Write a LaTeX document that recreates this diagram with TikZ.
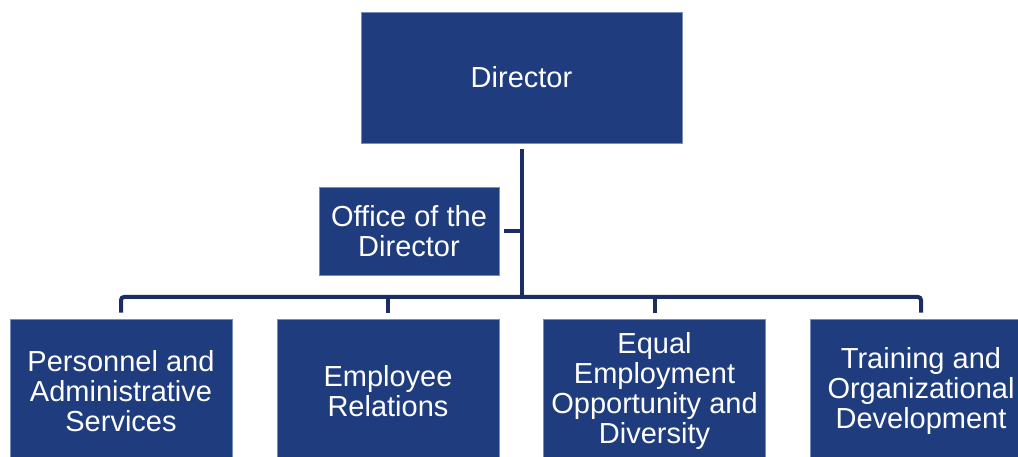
\documentclass[tikz,border=0pt]{standalone}
\usepackage{fontspec}
\setmainfont{Liberation Sans}
\definecolor{boxblue}{RGB}{31,60,126}
\definecolor{boxedge}{RGB}{120,140,190}
\definecolor{linenavy}{RGB}{26,45,100}
\begin{document}
\begin{tikzpicture}[x=1pt,y=-1pt,
  orgbox/.style={fill=boxblue,draw=boxedge,line width=0.6pt,text=white,align=center,
    inner sep=0pt,font=\fontsize{29}{30}\selectfont},
  conn/.style={draw=linenavy,line width=4pt,rounded corners=3pt}]
\useasboundingbox (0,0) rectangle (1018,457);
\clip (0,0) rectangle (1018,457);
\node[orgbox,minimum width=321pt,minimum height=131pt,font=\fontsize{29}{30}\selectfont] (dir) at (521.5,77.5) {Director};
\node[orgbox,minimum width=180pt,minimum height=88pt] (off) at (409,231) {Office of the\\Director};
\node[orgbox,minimum width=222pt,minimum height=144pt] (b1) at (121,391) {Personnel and\\Administrative\\Services};
\node[orgbox,minimum width=222pt,minimum height=144pt] (b2) at (388,391) {Employee\\Relations};
\node[orgbox,minimum width=222pt,minimum height=144pt] (b3) at (654.5,391) {Equal\\Employment\\Opportunity and\\Diversity};
\node[orgbox,minimum width=222pt,minimum height=144pt] (b4) at (921,391) {Training and\\Organizational\\Development};
\coordinate (bus) at (dir.south |- 0,297);
\draw[conn,rounded corners=0pt] ([yshift=-6pt]dir.south) -- (bus);
\draw[conn,line cap=butt] ([xshift=5pt]off.east) -- (off.east -| dir.south);
\draw[conn] ([yshift=6pt]b1.north) -- (b1.north |- bus) -- (b4.north |- bus) -- ([yshift=6pt]b4.north);
\draw[conn] (bus -| b2.north) -- ([yshift=6pt]b2.north);
\draw[conn] (bus -| b3.north) -- ([yshift=6pt]b3.north);
\end{tikzpicture}
\end{document}
